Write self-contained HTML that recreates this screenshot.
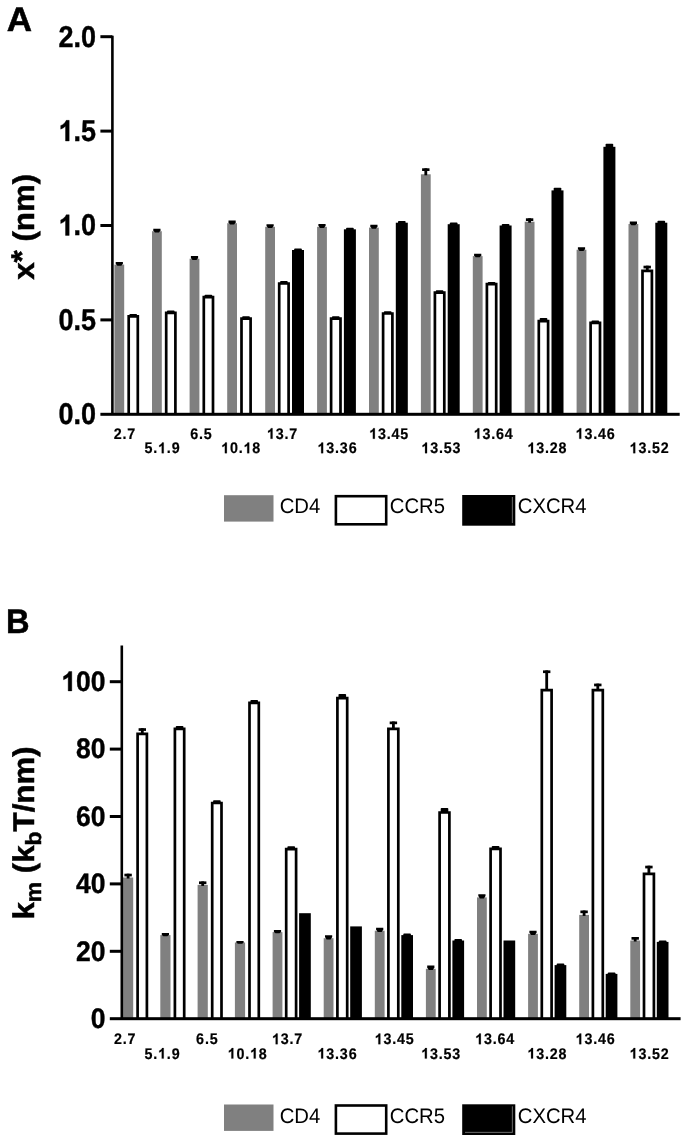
<!DOCTYPE html>
<html><head><meta charset="utf-8"><title>Figure</title>
<style>
html,body{margin:0;padding:0;background:#fff;}
body{width:685px;height:1142px;overflow:hidden;font-family:"Liberation Sans",sans-serif;}
svg{display:block;filter:blur(0.45px);}
text{text-rendering:geometricPrecision;}
</style></head><body>
<svg width="685" height="1142" viewBox="0 0 685 1142">
<rect width="685" height="1142" fill="#fff"/>
<g id="A">
<rect x="114.4" y="264.6" width="9.8" height="149.7" fill="#808080"/>
<path d="M115.7 262.0h7.2v1.8l-1.6 2.0h-4l-1.6 -2.0z" fill="#000"/>
<path d="M128.7 414.3V316.3H137.8V414.3" fill="#fff" stroke="#000" stroke-width="2.7"/>
<rect x="129.4" y="314.0" width="7.6" height="2.5" rx="0.8" fill="#000"/>
<rect x="152.0" y="231.2" width="9.8" height="183.1" fill="#808080"/>
<path d="M153.3 228.8h7.2v1.8l-1.6 1.8h-4l-1.6 -1.8z" fill="#000"/>
<path d="M166.2 414.3V312.8H175.4V414.3" fill="#fff" stroke="#000" stroke-width="2.7"/>
<rect x="167.0" y="310.4" width="7.6" height="2.5" rx="0.8" fill="#000"/>
<rect x="189.6" y="258.7" width="9.8" height="155.6" fill="#808080"/>
<path d="M190.9 256.1h7.2v1.8l-1.6 2.0h-4l-1.6 -2.0z" fill="#000"/>
<path d="M203.8 414.3V297.1H213.0V414.3" fill="#fff" stroke="#000" stroke-width="2.7"/>
<rect x="204.6" y="294.7" width="7.6" height="2.5" rx="0.8" fill="#000"/>
<rect x="227.2" y="223.2" width="9.8" height="191.1" fill="#808080"/>
<path d="M228.5 220.6h7.2v1.8l-1.6 2.0h-4l-1.6 -2.0z" fill="#000"/>
<path d="M241.5 414.3V318.6H250.6V414.3" fill="#fff" stroke="#000" stroke-width="2.7"/>
<rect x="242.2" y="316.3" width="7.6" height="2.5" rx="0.8" fill="#000"/>
<rect x="265.2" y="226.8" width="9.8" height="187.5" fill="#808080"/>
<path d="M266.5 224.2h7.2v1.8l-1.6 2.0h-4l-1.6 -2.0z" fill="#000"/>
<path d="M279.2 414.3V283.5H288.6V414.3" fill="#fff" stroke="#000" stroke-width="2.7"/>
<rect x="280.1" y="281.1" width="7.6" height="2.5" rx="0.8" fill="#000"/>
<rect x="292.0" y="250.0" width="12.0" height="164.3" fill="#000"/>
<rect x="294.2" y="248.5" width="7.6" height="3.0" rx="0.8" fill="#000"/>
<rect x="317.1" y="226.8" width="9.8" height="187.5" fill="#808080"/>
<path d="M318.4 224.0h7.2v1.8l-1.6 2.2h-4l-1.6 -2.2z" fill="#000"/>
<path d="M331.1 414.3V318.6H340.5V414.3" fill="#fff" stroke="#000" stroke-width="2.7"/>
<rect x="332.0" y="316.3" width="7.6" height="2.5" rx="0.8" fill="#000"/>
<rect x="343.9" y="229.3" width="12.0" height="185.0" fill="#000"/>
<rect x="346.1" y="227.8" width="7.6" height="3.0" rx="0.8" fill="#000"/>
<rect x="369.0" y="227.6" width="9.8" height="186.7" fill="#808080"/>
<path d="M370.3 224.8h7.2v1.8l-1.6 2.2h-4l-1.6 -2.2z" fill="#000"/>
<path d="M383.1 414.3V313.5H392.4V414.3" fill="#fff" stroke="#000" stroke-width="2.7"/>
<rect x="383.9" y="311.2" width="7.6" height="2.5" rx="0.8" fill="#000"/>
<rect x="395.8" y="222.7" width="12.0" height="191.6" fill="#000"/>
<rect x="398.0" y="220.9" width="7.6" height="3.3" rx="0.8" fill="#000"/>
<rect x="420.9" y="174.3" width="9.8" height="240.0" fill="#808080"/>
<rect x="424.4" y="168.3" width="2.8" height="7.0" fill="#000"/>
<rect x="422.1" y="168.3" width="7.4" height="2.7" fill="#000"/>
<path d="M434.9 414.3V292.6H444.3V414.3" fill="#fff" stroke="#000" stroke-width="2.7"/>
<rect x="435.8" y="290.2" width="7.6" height="2.5" rx="0.8" fill="#000"/>
<rect x="447.7" y="224.2" width="12.0" height="190.1" fill="#000"/>
<rect x="449.9" y="222.4" width="7.6" height="3.3" rx="0.8" fill="#000"/>
<rect x="472.8" y="256.1" width="9.8" height="158.2" fill="#808080"/>
<path d="M474.1 253.7h7.2v1.8l-1.6 1.8h-4l-1.6 -1.8z" fill="#000"/>
<path d="M486.9 414.3V284.2H496.2V414.3" fill="#fff" stroke="#000" stroke-width="2.7"/>
<rect x="487.8" y="281.9" width="7.6" height="2.5" rx="0.8" fill="#000"/>
<rect x="499.6" y="225.5" width="12.0" height="188.8" fill="#000"/>
<rect x="501.8" y="224.0" width="7.6" height="3.0" rx="0.8" fill="#000"/>
<rect x="524.7" y="221.7" width="9.8" height="192.6" fill="#808080"/>
<rect x="528.2" y="218.3" width="2.8" height="4.4" fill="#000"/>
<rect x="525.9" y="218.3" width="7.4" height="2.7" fill="#000"/>
<path d="M538.8 414.3V321.2H548.1V414.3" fill="#fff" stroke="#000" stroke-width="2.7"/>
<rect x="539.7" y="317.9" width="7.6" height="3.5" rx="0.8" fill="#000"/>
<rect x="551.5" y="190.4" width="12.0" height="223.9" fill="#000"/>
<rect x="553.7" y="187.8" width="7.6" height="4.1" rx="0.8" fill="#000"/>
<rect x="576.6" y="249.7" width="9.8" height="164.6" fill="#808080"/>
<path d="M577.9 247.3h7.2v1.8l-1.6 1.8h-4l-1.6 -1.8z" fill="#000"/>
<path d="M590.6 414.3V322.8H600.0V414.3" fill="#fff" stroke="#000" stroke-width="2.7"/>
<rect x="591.5" y="320.4" width="7.6" height="2.5" rx="0.8" fill="#000"/>
<rect x="603.4" y="146.8" width="12.0" height="267.5" fill="#000"/>
<rect x="605.6" y="143.8" width="7.6" height="4.5" rx="0.8" fill="#000"/>
<rect x="628.5" y="224.0" width="9.8" height="190.3" fill="#808080"/>
<path d="M629.8 221.4h7.2v1.8l-1.6 2.0h-4l-1.6 -2.0z" fill="#000"/>
<path d="M642.5 414.3V270.8H651.9V414.3" fill="#fff" stroke="#000" stroke-width="2.7"/>
<rect x="645.9" y="265.7" width="2.8" height="4.8" fill="#000"/>
<rect x="643.5" y="265.7" width="7.4" height="2.7" fill="#000"/>
<rect x="655.3" y="222.7" width="12.0" height="191.6" fill="#000"/>
<rect x="657.5" y="220.7" width="7.6" height="3.5" rx="0.8" fill="#000"/>
<rect x="111.10" y="35.7" width="2.6" height="378.6" fill="#000"/>
<rect x="100.4" y="412.80" width="579.3" height="3.0" fill="#000"/>
<g transform="translate(96.1,424.2) scale(0.9,1.0)"><text x="-41.70" y="0" font-family="Liberation Sans, sans-serif" font-weight="bold" font-size="30" stroke="#000" stroke-width="0.4">0.0</text></g>
<rect x="100.4" y="318.40" width="12" height="3.0" fill="#000"/>
<g transform="translate(96.1,329.8) scale(0.9,1.0)"><text x="-41.70" y="0" font-family="Liberation Sans, sans-serif" font-weight="bold" font-size="30" stroke="#000" stroke-width="0.4">0.5</text></g>
<rect x="100.4" y="224.00" width="12" height="3.0" fill="#000"/>
<g transform="translate(96.1,235.4) scale(0.9,1.0)"><path transform="translate(-41.70,0) scale(0.01465,-0.01402)" d="M806 0H525V1059Q371 915 162 846V1101Q272 1137 401 1237.5Q530 1338 578 1472H806Z" stroke="#000" stroke-width="27"/><text x="-25.02" y="0" font-family="Liberation Sans, sans-serif" font-weight="bold" font-size="30" stroke="#000" stroke-width="0.4">.0</text></g>
<rect x="100.4" y="129.60" width="12" height="3.0" fill="#000"/>
<g transform="translate(96.1,141.0) scale(0.9,1.0)"><path transform="translate(-41.70,0) scale(0.01465,-0.01402)" d="M806 0H525V1059Q371 915 162 846V1101Q272 1137 401 1237.5Q530 1338 578 1472H806Z" stroke="#000" stroke-width="27"/><text x="-25.02" y="0" font-family="Liberation Sans, sans-serif" font-weight="bold" font-size="30" stroke="#000" stroke-width="0.4">.5</text></g>
<rect x="100.4" y="35.20" width="12" height="3.0" fill="#000"/>
<g transform="translate(96.1,46.6) scale(0.9,1.0)"><text x="-41.70" y="0" font-family="Liberation Sans, sans-serif" font-weight="bold" font-size="30" stroke="#000" stroke-width="0.4">2.0</text></g>
</g>
<g id="B">
<rect x="123.0" y="877.5" width="10.2" height="141.2" fill="#808080"/>
<rect x="126.7" y="873.7" width="2.8" height="4.8" fill="#000"/>
<rect x="124.4" y="873.7" width="7.4" height="2.7" fill="#000"/>
<path d="M137.6 1018.7V733.9H146.9V1018.7" fill="#fff" stroke="#000" stroke-width="2.7"/>
<rect x="140.9" y="728.2" width="2.8" height="5.4" fill="#000"/>
<rect x="138.6" y="728.2" width="7.4" height="2.7" fill="#000"/>
<rect x="160.3" y="935.1" width="10.2" height="83.6" fill="#808080"/>
<path d="M161.8 933.1h7.2v1.8l-1.6 1.4h-4l-1.6 -1.4z" fill="#000"/>
<path d="M174.9 1018.7V728.9H184.2V1018.7" fill="#fff" stroke="#000" stroke-width="2.7"/>
<rect x="175.8" y="726.0" width="7.6" height="3.0" rx="0.8" fill="#000"/>
<rect x="197.6" y="884.9" width="10.2" height="133.8" fill="#808080"/>
<rect x="201.3" y="881.4" width="2.8" height="4.5" fill="#000"/>
<rect x="199.0" y="881.4" width="7.4" height="2.7" fill="#000"/>
<path d="M212.2 1018.7V803.0H221.5V1018.7" fill="#fff" stroke="#000" stroke-width="2.7"/>
<rect x="213.1" y="800.2" width="7.6" height="3.0" rx="0.8" fill="#000"/>
<rect x="234.9" y="942.5" width="10.2" height="76.2" fill="#808080"/>
<path d="M236.4 941.0h7.2v1.8l-1.6 0.9h-4l-1.6 -0.9z" fill="#000"/>
<path d="M249.5 1018.7V702.9H258.8V1018.7" fill="#fff" stroke="#000" stroke-width="2.7"/>
<rect x="250.4" y="700.1" width="7.6" height="3.0" rx="0.8" fill="#000"/>
<rect x="272.6" y="932.1" width="9.8" height="86.6" fill="#808080"/>
<path d="M273.9 930.1h7.2v1.8l-1.6 1.4h-4l-1.6 -1.4z" fill="#000"/>
<path d="M286.2 1018.7V849.2H296.1V1018.7" fill="#fff" stroke="#000" stroke-width="2.7"/>
<rect x="287.4" y="846.3" width="7.6" height="3.0" rx="0.8" fill="#000"/>
<rect x="299.1" y="913.2" width="11.7" height="105.5" fill="#000"/>
<rect x="323.7" y="938.2" width="9.8" height="80.5" fill="#808080"/>
<path d="M325.0 935.2h7.2v1.8l-1.6 2.4h-4l-1.6 -2.4z" fill="#000"/>
<path d="M337.4 1018.7V698.2H347.2V1018.7" fill="#fff" stroke="#000" stroke-width="2.7"/>
<rect x="338.5" y="693.9" width="7.6" height="4.5" rx="0.8" fill="#000"/>
<rect x="350.2" y="926.4" width="11.7" height="92.3" fill="#000"/>
<rect x="374.8" y="930.7" width="9.8" height="88.0" fill="#808080"/>
<path d="M376.1 927.7h7.2v1.8l-1.6 2.4h-4l-1.6 -2.4z" fill="#000"/>
<path d="M388.4 1018.7V728.9H398.3V1018.7" fill="#fff" stroke="#000" stroke-width="2.7"/>
<rect x="392.0" y="721.5" width="2.8" height="7.0" fill="#000"/>
<rect x="389.7" y="721.5" width="7.4" height="2.7" fill="#000"/>
<rect x="401.3" y="935.1" width="11.7" height="83.6" fill="#000"/>
<rect x="403.3" y="933.6" width="7.6" height="3.0" rx="0.8" fill="#000"/>
<rect x="425.9" y="968.8" width="9.8" height="49.9" fill="#808080"/>
<path d="M427.2 965.6h7.2v1.8l-1.6 2.6h-4l-1.6 -2.6z" fill="#000"/>
<path d="M439.6 1018.7V812.5H449.4V1018.7" fill="#fff" stroke="#000" stroke-width="2.7"/>
<rect x="440.7" y="808.1" width="7.6" height="4.5" rx="0.8" fill="#000"/>
<rect x="452.4" y="940.5" width="11.7" height="78.2" fill="#000"/>
<rect x="454.4" y="939.0" width="7.6" height="3.0" rx="0.8" fill="#000"/>
<rect x="477.0" y="897.4" width="9.8" height="121.3" fill="#808080"/>
<path d="M478.3 894.2h7.2v1.8l-1.6 2.6h-4l-1.6 -2.6z" fill="#000"/>
<path d="M490.6 1018.7V848.9H500.5V1018.7" fill="#fff" stroke="#000" stroke-width="2.7"/>
<rect x="491.8" y="846.0" width="7.6" height="3.0" rx="0.8" fill="#000"/>
<rect x="503.5" y="940.5" width="11.7" height="78.2" fill="#000"/>
<rect x="528.1" y="933.8" width="9.8" height="84.9" fill="#808080"/>
<path d="M529.4 930.8h7.2v1.8l-1.6 2.4h-4l-1.6 -2.4z" fill="#000"/>
<path d="M541.8 1018.7V690.1H551.6V1018.7" fill="#fff" stroke="#000" stroke-width="2.7"/>
<rect x="545.3" y="670.4" width="2.8" height="19.4" fill="#000"/>
<rect x="543.0" y="670.4" width="7.4" height="2.7" fill="#000"/>
<rect x="554.6" y="965.1" width="11.7" height="53.6" fill="#000"/>
<rect x="556.7" y="963.6" width="7.6" height="3.0" rx="0.8" fill="#000"/>
<rect x="579.2" y="914.9" width="9.8" height="103.8" fill="#808080"/>
<rect x="582.7" y="910.5" width="2.8" height="5.4" fill="#000"/>
<rect x="580.4" y="910.5" width="7.4" height="2.7" fill="#000"/>
<path d="M592.9 1018.7V690.1H602.8V1018.7" fill="#fff" stroke="#000" stroke-width="2.7"/>
<rect x="596.4" y="683.6" width="2.8" height="6.2" fill="#000"/>
<rect x="594.1" y="683.6" width="7.4" height="2.7" fill="#000"/>
<rect x="605.7" y="973.9" width="11.7" height="44.8" fill="#000"/>
<rect x="607.8" y="972.4" width="7.6" height="3.0" rx="0.8" fill="#000"/>
<rect x="630.3" y="940.5" width="9.8" height="78.2" fill="#808080"/>
<rect x="633.8" y="937.0" width="2.8" height="4.5" fill="#000"/>
<rect x="631.5" y="937.0" width="7.4" height="2.7" fill="#000"/>
<path d="M644.0 1018.7V873.8H653.9V1018.7" fill="#fff" stroke="#000" stroke-width="2.7"/>
<rect x="647.5" y="865.7" width="2.8" height="7.7" fill="#000"/>
<rect x="645.2" y="865.7" width="7.4" height="2.7" fill="#000"/>
<rect x="656.8" y="941.9" width="11.7" height="76.8" fill="#000"/>
<rect x="658.9" y="940.4" width="7.6" height="3.0" rx="0.8" fill="#000"/>
<rect x="120.50" y="645.5" width="2.6" height="373.2" fill="#000"/>
<rect x="109.8" y="1017.20" width="570.8" height="3.0" fill="#000"/>
<g transform="translate(105.6,1027.9) scale(0.94,1.0)"><text x="-15.68" y="0" font-family="Liberation Sans, sans-serif" font-weight="bold" font-size="28.2" stroke="#000" stroke-width="0.4">0</text></g>
<rect x="109.8" y="949.80" width="12" height="3.0" fill="#000"/>
<g transform="translate(105.6,960.5) scale(0.94,1.0)"><text x="-31.37" y="0" font-family="Liberation Sans, sans-serif" font-weight="bold" font-size="28.2" stroke="#000" stroke-width="0.4">20</text></g>
<rect x="109.8" y="882.40" width="12" height="3.0" fill="#000"/>
<g transform="translate(105.6,893.1) scale(0.94,1.0)"><text x="-31.37" y="0" font-family="Liberation Sans, sans-serif" font-weight="bold" font-size="28.2" stroke="#000" stroke-width="0.4">40</text></g>
<rect x="109.8" y="815.00" width="12" height="3.0" fill="#000"/>
<g transform="translate(105.6,825.7) scale(0.94,1.0)"><text x="-31.37" y="0" font-family="Liberation Sans, sans-serif" font-weight="bold" font-size="28.2" stroke="#000" stroke-width="0.4">60</text></g>
<rect x="109.8" y="747.60" width="12" height="3.0" fill="#000"/>
<g transform="translate(105.6,758.3) scale(0.94,1.0)"><text x="-31.37" y="0" font-family="Liberation Sans, sans-serif" font-weight="bold" font-size="28.2" stroke="#000" stroke-width="0.4">80</text></g>
<rect x="109.8" y="680.20" width="12" height="3.0" fill="#000"/>
<g transform="translate(105.6,690.9) scale(0.94,1.0)"><path transform="translate(-47.05,0) scale(0.01377,-0.01318)" d="M806 0H525V1059Q371 915 162 846V1101Q272 1137 401 1237.5Q530 1338 578 1472H806Z" stroke="#000" stroke-width="29"/><text x="-31.37" y="0" font-family="Liberation Sans, sans-serif" font-weight="bold" font-size="28.2" stroke="#000" stroke-width="0.4">00</text></g>
</g>
<g transform="translate(113.8,438.8) scale(0.93,1.0)"><text x="0.00" y="0" font-family="Liberation Sans, sans-serif" font-weight="bold" font-size="15.4" letter-spacing="0.88" stroke="#000" stroke-width="0.2">2.7</text></g>
<g transform="translate(144.5,453.2) scale(0.93,1.0)"><text x="0.00" y="0" font-family="Liberation Sans, sans-serif" font-weight="bold" font-size="15.4" letter-spacing="0.88" stroke="#000" stroke-width="0.2">5.</text><path transform="translate(14.60,0) scale(0.00752,-0.00720)" d="M806 0H525V1059Q371 915 162 846V1101Q272 1137 401 1237.5Q530 1338 578 1472H806Z" stroke="#000" stroke-width="27"/><text x="24.05" y="0" font-family="Liberation Sans, sans-serif" font-weight="bold" font-size="15.4" letter-spacing="0.88" stroke="#000" stroke-width="0.2">.9</text></g>
<g transform="translate(190.3,438.8) scale(0.93,1.0)"><text x="0.00" y="0" font-family="Liberation Sans, sans-serif" font-weight="bold" font-size="15.4" letter-spacing="0.88" stroke="#000" stroke-width="0.2">6.5</text></g>
<g transform="translate(221.2,453.2) scale(0.93,1.0)"><path transform="translate(0.00,0) scale(0.00752,-0.00720)" d="M806 0H525V1059Q371 915 162 846V1101Q272 1137 401 1237.5Q530 1338 578 1472H806Z" stroke="#000" stroke-width="27"/><text x="9.44" y="0" font-family="Liberation Sans, sans-serif" font-weight="bold" font-size="15.4" letter-spacing="0.88" stroke="#000" stroke-width="0.2">0.</text><path transform="translate(24.05,0) scale(0.00752,-0.00720)" d="M806 0H525V1059Q371 915 162 846V1101Q272 1137 401 1237.5Q530 1338 578 1472H806Z" stroke="#000" stroke-width="27"/><text x="33.49" y="0" font-family="Liberation Sans, sans-serif" font-weight="bold" font-size="15.4" letter-spacing="0.88" stroke="#000" stroke-width="0.2">8</text></g>
<g transform="translate(266.9,438.8) scale(0.93,1.0)"><path transform="translate(0.00,0) scale(0.00752,-0.00720)" d="M806 0H525V1059Q371 915 162 846V1101Q272 1137 401 1237.5Q530 1338 578 1472H806Z" stroke="#000" stroke-width="27"/><text x="9.44" y="0" font-family="Liberation Sans, sans-serif" font-weight="bold" font-size="15.4" letter-spacing="0.88" stroke="#000" stroke-width="0.2">3.7</text></g>
<g transform="translate(317.5,453.2) scale(0.93,1.0)"><path transform="translate(0.00,0) scale(0.00752,-0.00720)" d="M806 0H525V1059Q371 915 162 846V1101Q272 1137 401 1237.5Q530 1338 578 1472H806Z" stroke="#000" stroke-width="27"/><text x="9.44" y="0" font-family="Liberation Sans, sans-serif" font-weight="bold" font-size="15.4" letter-spacing="0.88" stroke="#000" stroke-width="0.2">3.36</text></g>
<g transform="translate(369.2,438.8) scale(0.93,1.0)"><path transform="translate(0.00,0) scale(0.00752,-0.00720)" d="M806 0H525V1059Q371 915 162 846V1101Q272 1137 401 1237.5Q530 1338 578 1472H806Z" stroke="#000" stroke-width="27"/><text x="9.44" y="0" font-family="Liberation Sans, sans-serif" font-weight="bold" font-size="15.4" letter-spacing="0.88" stroke="#000" stroke-width="0.2">3.45</text></g>
<g transform="translate(421.4,453.2) scale(0.93,1.0)"><path transform="translate(0.00,0) scale(0.00752,-0.00720)" d="M806 0H525V1059Q371 915 162 846V1101Q272 1137 401 1237.5Q530 1338 578 1472H806Z" stroke="#000" stroke-width="27"/><text x="9.44" y="0" font-family="Liberation Sans, sans-serif" font-weight="bold" font-size="15.4" letter-spacing="0.88" stroke="#000" stroke-width="0.2">3.53</text></g>
<g transform="translate(473.7,438.8) scale(0.93,1.0)"><path transform="translate(0.00,0) scale(0.00752,-0.00720)" d="M806 0H525V1059Q371 915 162 846V1101Q272 1137 401 1237.5Q530 1338 578 1472H806Z" stroke="#000" stroke-width="27"/><text x="9.44" y="0" font-family="Liberation Sans, sans-serif" font-weight="bold" font-size="15.4" letter-spacing="0.88" stroke="#000" stroke-width="0.2">3.64</text></g>
<g transform="translate(527.4,453.2) scale(0.93,1.0)"><path transform="translate(0.00,0) scale(0.00752,-0.00720)" d="M806 0H525V1059Q371 915 162 846V1101Q272 1137 401 1237.5Q530 1338 578 1472H806Z" stroke="#000" stroke-width="27"/><text x="9.44" y="0" font-family="Liberation Sans, sans-serif" font-weight="bold" font-size="15.4" letter-spacing="0.88" stroke="#000" stroke-width="0.2">3.28</text></g>
<g transform="translate(575.6,438.8) scale(0.93,1.0)"><path transform="translate(0.00,0) scale(0.00752,-0.00720)" d="M806 0H525V1059Q371 915 162 846V1101Q272 1137 401 1237.5Q530 1338 578 1472H806Z" stroke="#000" stroke-width="27"/><text x="9.44" y="0" font-family="Liberation Sans, sans-serif" font-weight="bold" font-size="15.4" letter-spacing="0.88" stroke="#000" stroke-width="0.2">3.46</text></g>
<g transform="translate(629.6,453.2) scale(0.93,1.0)"><path transform="translate(0.00,0) scale(0.00752,-0.00720)" d="M806 0H525V1059Q371 915 162 846V1101Q272 1137 401 1237.5Q530 1338 578 1472H806Z" stroke="#000" stroke-width="27"/><text x="9.44" y="0" font-family="Liberation Sans, sans-serif" font-weight="bold" font-size="15.4" letter-spacing="0.88" stroke="#000" stroke-width="0.2">3.52</text></g>
<g transform="translate(113.9,1044.2) scale(0.93,1.0)"><text x="0.00" y="0" font-family="Liberation Sans, sans-serif" font-weight="bold" font-size="15.4" letter-spacing="0.88" stroke="#000" stroke-width="0.2">2.7</text></g>
<g transform="translate(144.5,1058.6) scale(0.93,1.0)"><text x="0.00" y="0" font-family="Liberation Sans, sans-serif" font-weight="bold" font-size="15.4" letter-spacing="0.88" stroke="#000" stroke-width="0.2">5.</text><path transform="translate(14.60,0) scale(0.00752,-0.00720)" d="M806 0H525V1059Q371 915 162 846V1101Q272 1137 401 1237.5Q530 1338 578 1472H806Z" stroke="#000" stroke-width="27"/><text x="24.05" y="0" font-family="Liberation Sans, sans-serif" font-weight="bold" font-size="15.4" letter-spacing="0.88" stroke="#000" stroke-width="0.2">.9</text></g>
<g transform="translate(196.1,1044.2) scale(0.93,1.0)"><text x="0.00" y="0" font-family="Liberation Sans, sans-serif" font-weight="bold" font-size="15.4" letter-spacing="0.88" stroke="#000" stroke-width="0.2">6.5</text></g>
<g transform="translate(227.7,1058.6) scale(0.93,1.0)"><path transform="translate(0.00,0) scale(0.00752,-0.00720)" d="M806 0H525V1059Q371 915 162 846V1101Q272 1137 401 1237.5Q530 1338 578 1472H806Z" stroke="#000" stroke-width="27"/><text x="9.44" y="0" font-family="Liberation Sans, sans-serif" font-weight="bold" font-size="15.4" letter-spacing="0.88" stroke="#000" stroke-width="0.2">0.</text><path transform="translate(24.05,0) scale(0.00752,-0.00720)" d="M806 0H525V1059Q371 915 162 846V1101Q272 1137 401 1237.5Q530 1338 578 1472H806Z" stroke="#000" stroke-width="27"/><text x="33.49" y="0" font-family="Liberation Sans, sans-serif" font-weight="bold" font-size="15.4" letter-spacing="0.88" stroke="#000" stroke-width="0.2">8</text></g>
<g transform="translate(272.0,1044.2) scale(0.93,1.0)"><path transform="translate(0.00,0) scale(0.00752,-0.00720)" d="M806 0H525V1059Q371 915 162 846V1101Q272 1137 401 1237.5Q530 1338 578 1472H806Z" stroke="#000" stroke-width="27"/><text x="9.44" y="0" font-family="Liberation Sans, sans-serif" font-weight="bold" font-size="15.4" letter-spacing="0.88" stroke="#000" stroke-width="0.2">3.7</text></g>
<g transform="translate(317.5,1058.6) scale(0.93,1.0)"><path transform="translate(0.00,0) scale(0.00752,-0.00720)" d="M806 0H525V1059Q371 915 162 846V1101Q272 1137 401 1237.5Q530 1338 578 1472H806Z" stroke="#000" stroke-width="27"/><text x="9.44" y="0" font-family="Liberation Sans, sans-serif" font-weight="bold" font-size="15.4" letter-spacing="0.88" stroke="#000" stroke-width="0.2">3.36</text></g>
<g transform="translate(374.7,1044.2) scale(0.93,1.0)"><path transform="translate(0.00,0) scale(0.00752,-0.00720)" d="M806 0H525V1059Q371 915 162 846V1101Q272 1137 401 1237.5Q530 1338 578 1472H806Z" stroke="#000" stroke-width="27"/><text x="9.44" y="0" font-family="Liberation Sans, sans-serif" font-weight="bold" font-size="15.4" letter-spacing="0.88" stroke="#000" stroke-width="0.2">3.45</text></g>
<g transform="translate(421.2,1058.6) scale(0.93,1.0)"><path transform="translate(0.00,0) scale(0.00752,-0.00720)" d="M806 0H525V1059Q371 915 162 846V1101Q272 1137 401 1237.5Q530 1338 578 1472H806Z" stroke="#000" stroke-width="27"/><text x="9.44" y="0" font-family="Liberation Sans, sans-serif" font-weight="bold" font-size="15.4" letter-spacing="0.88" stroke="#000" stroke-width="0.2">3.53</text></g>
<g transform="translate(475.2,1044.2) scale(0.93,1.0)"><path transform="translate(0.00,0) scale(0.00752,-0.00720)" d="M806 0H525V1059Q371 915 162 846V1101Q272 1137 401 1237.5Q530 1338 578 1472H806Z" stroke="#000" stroke-width="27"/><text x="9.44" y="0" font-family="Liberation Sans, sans-serif" font-weight="bold" font-size="15.4" letter-spacing="0.88" stroke="#000" stroke-width="0.2">3.64</text></g>
<g transform="translate(527.4,1058.6) scale(0.93,1.0)"><path transform="translate(0.00,0) scale(0.00752,-0.00720)" d="M806 0H525V1059Q371 915 162 846V1101Q272 1137 401 1237.5Q530 1338 578 1472H806Z" stroke="#000" stroke-width="27"/><text x="9.44" y="0" font-family="Liberation Sans, sans-serif" font-weight="bold" font-size="15.4" letter-spacing="0.88" stroke="#000" stroke-width="0.2">3.28</text></g>
<g transform="translate(575.6,1044.2) scale(0.93,1.0)"><path transform="translate(0.00,0) scale(0.00752,-0.00720)" d="M806 0H525V1059Q371 915 162 846V1101Q272 1137 401 1237.5Q530 1338 578 1472H806Z" stroke="#000" stroke-width="27"/><text x="9.44" y="0" font-family="Liberation Sans, sans-serif" font-weight="bold" font-size="15.4" letter-spacing="0.88" stroke="#000" stroke-width="0.2">3.46</text></g>
<g transform="translate(629.6,1058.6) scale(0.93,1.0)"><path transform="translate(0.00,0) scale(0.00752,-0.00720)" d="M806 0H525V1059Q371 915 162 846V1101Q272 1137 401 1237.5Q530 1338 578 1472H806Z" stroke="#000" stroke-width="27"/><text x="9.44" y="0" font-family="Liberation Sans, sans-serif" font-weight="bold" font-size="15.4" letter-spacing="0.88" stroke="#000" stroke-width="0.2">3.52</text></g>
<text transform="translate(6.7,31.1) scale(1.03,1)" font-family="Liberation Sans, sans-serif" font-weight="bold" font-size="34" stroke="#000" stroke-width="0.5">A</text>
<text transform="translate(6.0,633.4) scale(0.96,1)" font-family="Liberation Sans, sans-serif" font-weight="bold" font-size="34" stroke="#000" stroke-width="0.5">B</text>
<text transform="translate(34.2,279.8) rotate(-90) scale(1.042,1)" font-family="Liberation Sans, sans-serif" font-weight="bold" font-size="30" stroke="#000" stroke-width="0.5">x<tspan dy="-2.3">*</tspan><tspan dy="2.3"> (nm)</tspan></text>
<text transform="translate(33.6,919.5) rotate(-90) scale(1.04,1)" font-family="Liberation Sans, sans-serif" font-weight="bold" font-size="30" stroke="#000" stroke-width="0.5">k<tspan font-size="22" dy="7">m</tspan><tspan dy="-7"> (k</tspan><tspan font-size="22" dy="7">b</tspan><tspan dy="-7">T/nm)</tspan></text>
<rect x="224" y="495.2" width="49.5" height="26.4" fill="#808080"/>
<text transform="translate(279.7,513.4) scale(0.965,1)" font-family="Liberation Sans, sans-serif" font-size="21">CD4</text>
<rect x="335.9" y="496.2" width="50.3" height="28.1" fill="#fff" stroke="#000" stroke-width="2.6"/>
<text transform="translate(389.8,513.4) scale(0.965,1)" font-family="Liberation Sans, sans-serif" font-size="21">CCR5</text>
<rect x="462.2" y="495.0" width="53.1" height="30.7" fill="#000"/>
<rect x="511.9" y="497.0" width="0.7" height="26" fill="#999"/>
<text transform="translate(517.8,513.4) scale(0.965,1)" font-family="Liberation Sans, sans-serif" font-size="21">CXCR4</text>
<rect x="224" y="1104.5" width="49.5" height="26.4" fill="#808080"/>
<text transform="translate(279.7,1122.7) scale(0.965,1)" font-family="Liberation Sans, sans-serif" font-size="21">CD4</text>
<rect x="335.9" y="1105.5" width="50.3" height="28.1" fill="#fff" stroke="#000" stroke-width="2.6"/>
<text transform="translate(389.8,1122.7) scale(0.965,1)" font-family="Liberation Sans, sans-serif" font-size="21">CCR5</text>
<rect x="462.2" y="1104.3" width="53.1" height="30.7" fill="#000"/>
<rect x="511.9" y="1106.3" width="0.7" height="26" fill="#999"/>
<rect x="465" y="1131.9" width="47.6" height="0.7" fill="#999"/>
<text transform="translate(517.8,1122.7) scale(0.965,1)" font-family="Liberation Sans, sans-serif" font-size="21">CXCR4</text>
</svg>
</body></html>
